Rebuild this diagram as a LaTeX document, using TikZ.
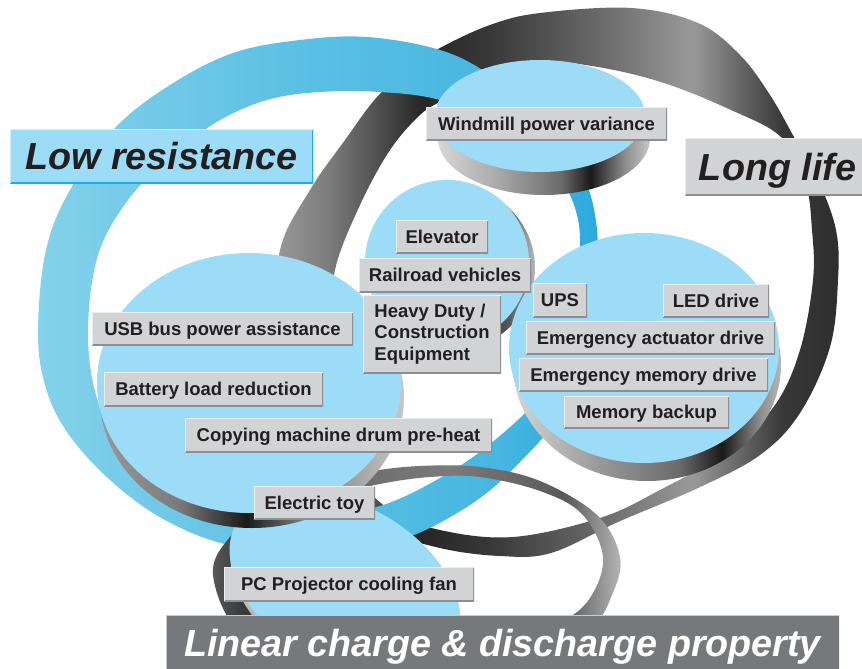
\documentclass[tikz,border=0pt]{standalone}
\usepackage{fontspec}
\setmainfont{Liberation Sans}
\definecolor{discblue}{HTML}{9DDCF7}
\definecolor{boxfill}{HTML}{D1D3D4}
\definecolor{edgeL}{HTML}{ECEDEE}
\definecolor{edgeD}{HTML}{8C8E91}
\definecolor{txt}{HTML}{231F20}
\definecolor{bannerfill}{HTML}{77787B}
\definecolor{bannerL}{HTML}{C9CACC}
\definecolor{lrfill}{HTML}{9DDCF7}
\definecolor{lredge}{HTML}{16AFE7}
\definecolor{lrlight}{HTML}{D3F0FC}
\definecolor{blA}{HTML}{84D1EA}
\definecolor{blB}{HTML}{5CC0E4}
\definecolor{blC}{HTML}{47B6E0}
\definecolor{blD}{HTML}{2CA9DD}
\definecolor{gK}{gray}{0.10}
\definecolor{gA}{gray}{0.15}
\definecolor{gB}{gray}{0.18}
\definecolor{gC}{gray}{0.22}
\definecolor{gD}{gray}{0.30}
\definecolor{gE}{gray}{0.35}
\definecolor{gF}{gray}{0.42}
\definecolor{gG}{gray}{0.48}
\definecolor{gH}{gray}{0.55}
\definecolor{gI}{gray}{0.60}
\definecolor{gJ}{gray}{0.65}
\definecolor{gL}{gray}{0.72}
\definecolor{gM}{gray}{0.78}
\definecolor{gN}{gray}{0.84}
\pgfdeclarehorizontalshading{bluesh}{100bp}{color(0bp)=(blA); color(25bp)=(blA); color(48bp)=(blB); color(66bp)=(blC); color(75bp)=(blD); color(100bp)=(blD)}
\pgfdeclarehorizontalshading{darksh}{100bp}{color(0bp)=(gI); color(25bp)=(gI); color(30bp)=(gG); color(38bp)=(gA); color(44bp)=(gC); color(54bp)=(gF); color(62bp)=(gI); color(70bp)=(gC); color(75bp)=(gB); color(100bp)=(gB)}
\pgfdeclarehorizontalshading{smallsh}{100bp}{color(0bp)=(gE); color(25bp)=(gE); color(29bp)=(gC); color(40bp)=(gF); color(54bp)=(gG); color(68bp)=(gE); color(75bp)=(gL); color(100bp)=(gL)}
\pgfdeclarehorizontalshading{leftrim}{100bp}{color(0bp)=(gI); color(25bp)=(gI); color(38bp)=(gG); color(49bp)=(gK); color(58bp)=(gG); color(75bp)=(gM); color(100bp)=(gM)}
\pgfdeclarehorizontalshading{elevrim}{100bp}{color(0bp)=(gD); color(25bp)=(gD); color(55bp)=(gK); color(67bp)=(gE); color(75bp)=(gL); color(100bp)=(gL)}
\pgfdeclarehorizontalshading{windrim}{100bp}{color(0bp)=(gN); color(25bp)=(gN); color(40bp)=(gJ); color(54bp)=(gF); color(61bp)=(gK); color(69bp)=(gH); color(75bp)=(gM); color(100bp)=(gM)}
\pgfdeclarehorizontalshading{rightrim}{100bp}{color(0bp)=(gN); color(25bp)=(gN); color(41bp)=(gI); color(56bp)=(gF); color(64bp)=(gK); color(71bp)=(gH); color(75bp)=(gL); color(100bp)=(gL)}
\pgfdeclarehorizontalshading{botrim}{100bp}{color(0bp)=(gM); color(25bp)=(gM); color(50bp)=(gI); color(75bp)=(gJ); color(100bp)=(gJ)}
\newcommand\labfont{\fontsize{18.5pt}{21.5pt}\selectfont\bfseries}
\newcommand\titfont{\fontsize{37.7pt}{40pt}\selectfont\bfseries\itshape}
\tikzset{
  bevel/.style 2 args={path picture={
    \draw[#2, line width=2.8pt] (path picture bounding box.south west) -- (path picture bounding box.south east) -- (path picture bounding box.north east);
    \draw[#1, line width=2.8pt] (path picture bounding box.south west) -- (path picture bounding box.north west) -- (path picture bounding box.north east);}},
  lab/.style={fill=boxfill, text=txt, inner sep=0pt, font=\labfont, bevel={edgeL}{edgeD}},
  labone/.style={lab, text height=13.3pt, text depth=0pt},
  titlebox/.style={inner sep=0pt, font=\titfont, text height=27pt, text depth=0pt},
  disctop/.style={fill=discblue},
}
\begin{document}
\begin{tikzpicture}[x=1pt,y=-1pt]
\useasboundingbox (0,0) rectangle (862,669);
\fill[white] (0,0) rectangle (862,669);

% Long life ring
\shade[shading=darksh, even odd rule]
 plot[smooth cycle, tension=0.6] coordinates {(280,250) (310,190) (345,140) (377,97) (410,68) (440,48) (490,25) (540,13) (631,8) (698,23) (740,55) (770,95) (794,137) (818,180) (836,230) (838,280) (830,347) (800,413) (760,455) (698,488) (618,522) (551,553) (500,556) (440,548) (380,528) (330,490) (295,420) (278,330)}
 plot[smooth cycle, tension=0.6] coordinates {(335,270) (360,205) (390,150) (420,115) (443,100) (487,74) (540,62) (598,67) (664,83) (731,110) (781,137) (805,180) (812,230) (813,280) (800,350) (775,405) (730,450) (660,490) (600,518) (513,537) (440,530) (390,510) (355,470) (338,400) (333,330)};

% Low resistance ring
\shade[shading=bluesh, even odd rule]
 plot[smooth cycle, tension=0.6] coordinates {(38,330) (46,250) (70,190) (115,128) (170,85) (233,53) (300,40) (367,37) (440,50) (490,75) (545,120) (585,180) (598,245) (592,330) (562,410) (520,462) (470,505) (400,540) (320,552) (233,546) (165,520) (110,480) (67,432) (45,385)}
 plot[smooth cycle, tension=0.6] coordinates {(88,330) (98,255) (128,200) (167,160) (215,123) (267,100) (320,92) (380,92) (440,100) (500,125) (550,165) (574,205) (580,250) (572,330) (545,390) (495,440) (440,478) (377,507) (300,520) (230,512) (170,490) (122,450) (96,395)};

% Linear charge ring
\shade[shading=smallsh, even odd rule]
 plot[smooth cycle, tension=0.6] coordinates {(213,575) (230,537) (270,506) (320,484) (367,472) (420,466) (480,467) (540,481) (597,515) (620,557) (612,595) (590,628) (530,655) (420,668) (310,660) (240,632)}
 plot[smooth cycle, tension=0.6] coordinates {(247,575) (262,545) (292,516) (335,496) (380,484) (430,477) (480,477) (540,491) (582,514) (603,557) (590,598) (560,622) (500,642) (420,650) (320,645) (265,615)};

% bottom disc
\shade[shading=botrim, rotate around={-30:(346,593)}] (346,593) ellipse [x radius=125pt, y radius=80pt];
\fill[disctop, rotate around={-30:(345,585)}] (345,585) ellipse [x radius=125pt, y radius=80pt];
% left disc
\shade[shading=leftrim] (252,398) ellipse [x radius=152pt, y radius=130pt];
\fill[disctop] (249,383) ellipse [x radius=152pt, y radius=130pt];
% elevator disc
\shade[shading=elevrim] (453,268) ellipse [x radius=82pt, y radius=82pt];
\fill[disctop] (447,262) ellipse [x radius=82pt, y radius=82pt];
% windmill disc
\shade[shading=windrim] (544,138) ellipse [x radius=106pt, y radius=57pt];
\fill[disctop] (540,116) ellipse [x radius=105pt, y radius=56pt];
% right disc
\shade[shading=rightrim] (647,365) ellipse [x radius=134pt, y radius=116pt];
\fill[disctop] (644,348) ellipse [x radius=135pt, y radius=115pt];

% labels
\node[labone, minimum width=241pt, minimum height=33pt] (win) at (546.5,123.5) {Windmill power variance};
\node[labone, minimum width=92pt, minimum height=33pt] (elev) at (442,236.5) {Elevator};
\node[labone, minimum width=172pt, minimum height=34pt] (rail) at (445,275) {Railroad vehicles};
\node[lab, minimum width=138pt, minimum height=78pt, align=left] (heavy) at (432,334) {Heavy Duty /\\Construction\\Equipment};
\node[labone, minimum width=54pt, minimum height=34pt] (ups) at (560,300) {UPS};
\node[labone, minimum width=106pt, minimum height=33pt] (led) at (716,300.5) {LED drive};
\node[labone, minimum width=249pt, minimum height=33pt] (eact) at (650.5,337.5) {Emergency actuator drive};
\node[labone, minimum width=249pt, minimum height=33pt] (emem) at (643.5,374.5) {Emergency memory drive};
\node[labone, minimum width=165pt, minimum height=32pt] (mback) at (646.5,412) {Memory backup};
\node[labone, minimum width=261pt, minimum height=33pt] (usb) at (222.5,328.5) {USB bus power assistance};
\node[labone, minimum width=219pt, minimum height=34pt] (batt) at (213.5,389) {Battery load reduction};
\node[labone, minimum width=307pt, minimum height=34pt] (copy) at (338.5,435) {Copying machine drum pre-heat};
\node[labone, minimum width=121pt, minimum height=33pt] (toy) at (314.5,502.5) {Electric toy};
\node[labone, minimum width=250pt, minimum height=34pt] (pc) at (349,584) {PC Projector cooling fan};

% titles
\node[titlebox, fill=lrfill, text=txt, bevel={lrlight}{lredge}, minimum width=303pt, minimum height=54pt] (lowres) at (161.5,156) {Low resistance};
\node[titlebox, fill=boxfill, text=txt, bevel={edgeL}{edgeD}, minimum width=185pt, minimum height=57pt] (longlife) at (777.5,166.5) {Long life};
\node[titlebox, fill=bannerfill, text=white, bevel={bannerL}{bannerfill}, minimum width=673pt, minimum height=56pt] (linear) at (502.5,643) {Linear charge \& discharge property};
\end{tikzpicture}
\end{document}
